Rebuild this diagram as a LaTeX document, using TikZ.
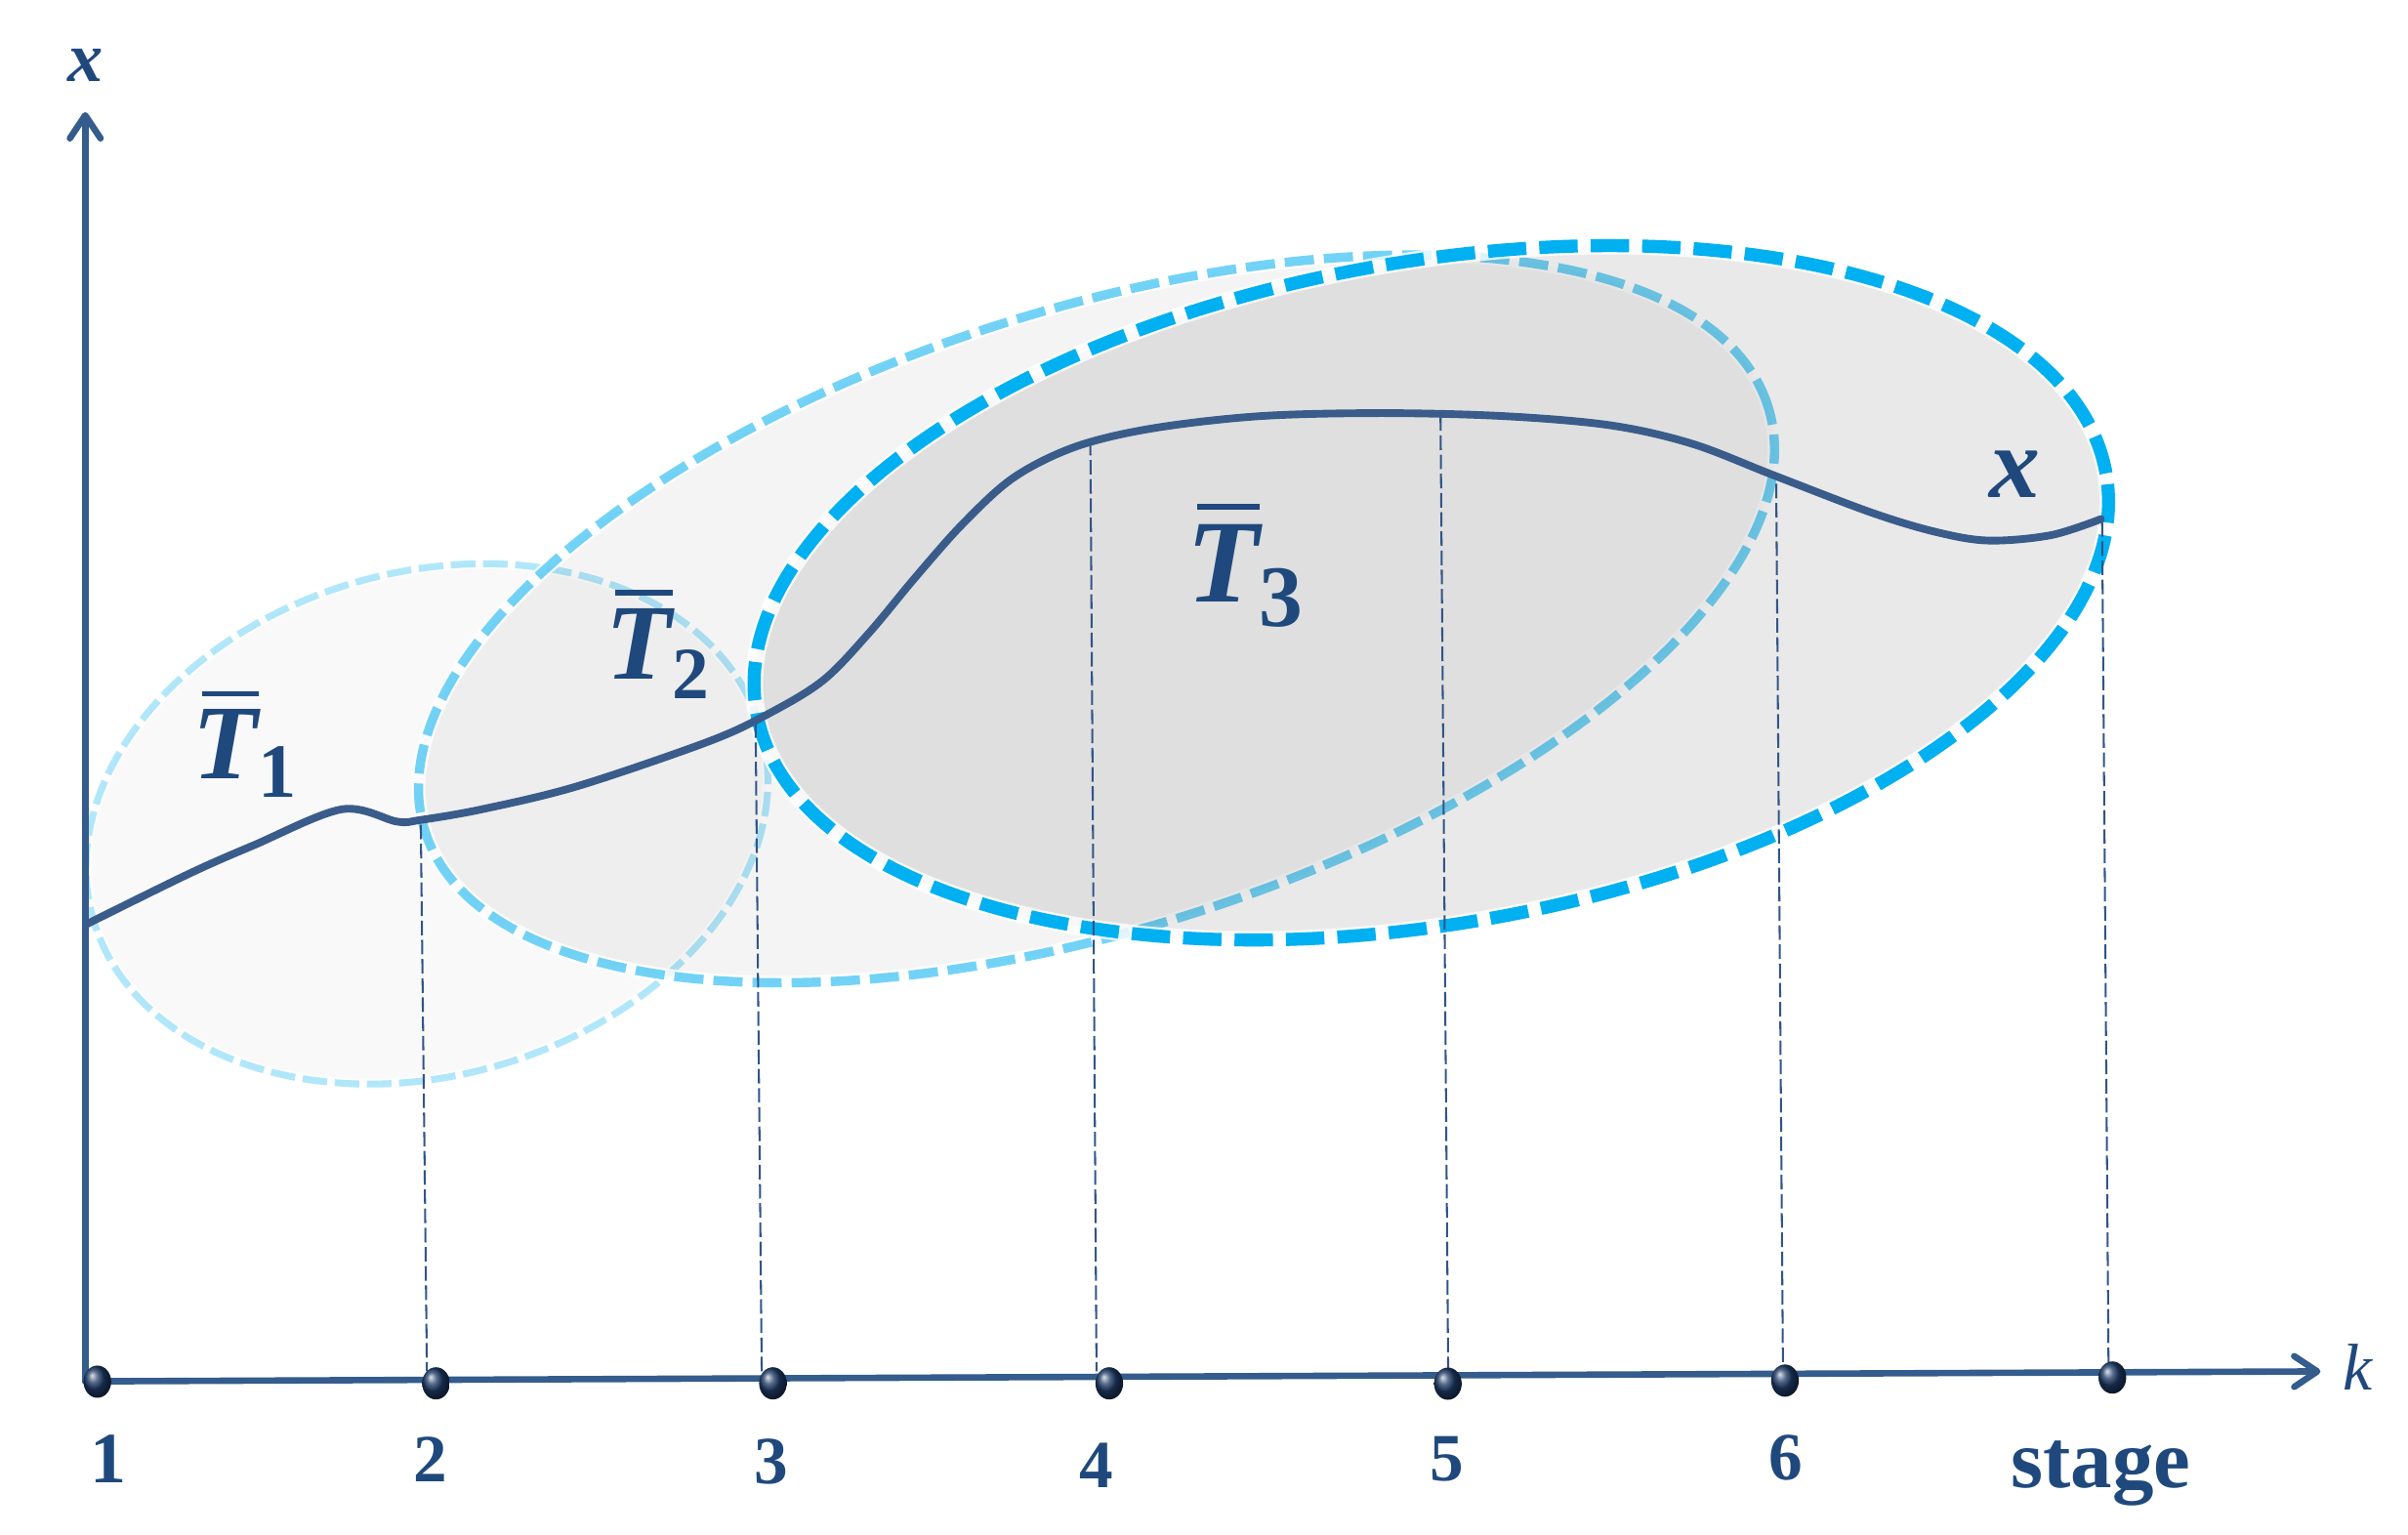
\documentclass[tikz,border=0pt]{standalone}
\usepackage{fontspec}
\setmainfont{Liberation Serif}
\usetikzlibrary{arrows.meta,shapes.geometric}
\definecolor{txt}{HTML}{1F497D}
\definecolor{axisc}{HTML}{345C8C}
\definecolor{curvec}{HTML}{3A5C8A}
\definecolor{cyanl}{HTML}{00B0F0}
\definecolor{dropc}{HTML}{325587}
\definecolor{dotc}{HTML}{1E3A66}
% T with bar and subscript: #1 T size, #2 sub size, #3 digit, #4 lowering
\newcommand\barT[4]{%
  {\fontsize{#1}{#1}\selectfont\bfseries\itshape
   \rlap{\kern0.09em\raisebox{0.775em}{\rule{0.53em}{0.05em}}}T}%
  \kern0.04em\raisebox{-#4pt}{\fontsize{#2}{#2}\selectfont\bfseries #3}}
\begin{document}
\begin{tikzpicture}[x=1pt,y=-1pt,
  axisline/.style={draw=axisc, line width=4.2pt, line cap=round, line join=round,
    -{Straight Barb[length=15pt,width=20pt,line cap=round,line join=round]}},
  curvestyle/.style={draw=curvec, line width=5pt, line cap=round},
  dropline/.style={draw=dropc, line width=1.3pt, dash pattern=on 9.5pt off 3pt},
  halo/.style={draw=white, line width=#1, opacity=0.8},
  eonefill/.style={fill=black, fill opacity=0.022},
  etwofill/.style={fill=black, fill opacity=0.045},
  ethreefill/.style={fill=black, fill opacity=0.085},
  eoneline/.style={draw=cyanl, draw opacity=0.3, line width=4.5pt, dash pattern=on 16pt off 5pt},
  etwoline/.style={draw=cyanl, draw opacity=0.55, line width=6pt, dash pattern=on 19pt off 6.5pt},
  ethreeline/.style={draw=cyanl, line width=8.5pt, dash pattern=on 25pt off 8.5pt},
  eone/.style={shift={(278,536.5)}, rotate=15.8},
  etwo/.style={shift={(714,403)}, rotate=17.55},
  ethree/.style={shift={(932,386)}, rotate=10.04},
  dotn/.style={ellipse, minimum width=18pt, minimum height=21pt, inner sep=0pt, ball color=dotc, draw=none},
  lab/.style={text=txt, inner sep=0pt},
  numlab/.style={lab, font=\fontsize{44}{44}\selectfont\bfseries}
]
\useasboundingbox (0,0) rectangle (1568,999);

% regions
\fill[eonefill, eone] (0,0) ellipse [x radius=226pt, y radius=164pt];
\draw[halo=7pt, eone] (0,0) ellipse [x radius=226pt, y radius=164pt];
\draw[eoneline, eone] (0,0) ellipse [x radius=226pt, y radius=164pt];

\fill[etwofill, etwo] (0,0) ellipse [x radius=458.6pt, y radius=201.8pt];
\draw[halo=9pt, etwo] (0,0) ellipse [x radius=458.6pt, y radius=201.8pt];
\draw[etwoline, etwo] (0,0) ellipse [x radius=458.6pt, y radius=201.8pt];

\fill[ethreefill, ethree] (0,0) ellipse [x radius=446.2pt, y radius=215.5pt];
\draw[halo=11.5pt, ethree] (0,0) ellipse [x radius=446.2pt, y radius=215.5pt];
\draw[ethreeline, ethree] (0,0) ellipse [x radius=446.2pt, y radius=215.5pt];

% points on curve and on axis
\coordinate (c2) at (274,537);
\coordinate (c3) at (492,471);
\coordinate (c4) at (710,287);
\coordinate (c5) at (938,271);
\coordinate (c6) at (1156.6,315);
\coordinate (c7) at (1368.8,340);
\coordinate (b2) at (278,893);
\coordinate (b3) at (496,893);
\coordinate (b4) at (714,893);
\coordinate (b5) at (943,893);
\coordinate (b6) at (1161,892);
\coordinate (b7) at (1373,890);

\draw[dropline] (c2) -- (b2);
\draw[dropline] (c3) -- (b3);
\draw[dropline] (c4) -- (b4);
\draw[dropline] (c5) -- (b5);
\draw[dropline] (c6) -- (b6);
\draw[dropline] (c7) -- (b7);

% trajectory
\draw[curvestyle] plot[smooth, tension=0.55] coordinates {
 (56,602) (123,569) (165,550.5) (222.5,527) (258.6,535) (273.4,534)
 (313.7,527) (375.8,512) (461,483) (500,465) (536,443) (566,412)
 (596,376) (627,341) (660,311) (700,291) (750,279) (820,271) (900,269)
 (980,271) (1049,277) (1102,289) (1155,309.5) (1218.7,333.8) (1261,346.5)
 (1295,352) (1335.4,348.5) (1368,338)};

% axes
\coordinate (O) at (55.5,899.5);
\coordinate (ytip) at (55.5,73);
\coordinate (xtip) at (1511,893);
\draw[axisline] (O) -- (ytip);
\draw[axisline] (O) -- (xtip);

% stage dots
\node[dotn] (d1) at (63.4,899.7) {};
\node[dotn] (d2) at (283.9,900.8) {};
\node[dotn] (d3) at (503.3,900.8) {};
\node[dotn] (d4) at (722.3,900.8) {};
\node[dotn] (d5) at (942.8,901) {};
\node[dotn] (d6) at (1162.3,899) {};
\node[dotn] (d7) at (1375.5,897) {};

% labels
\node[lab, font=\fontsize{46}{46}\selectfont\bfseries\itshape] (xax) at (55.6,42.3) {x};
\node[lab, font=\fontsize{43}{43}\selectfont\itshape] (kax) at (1535,890) {k};
\node[lab, font=\fontsize{66}{66}\selectfont\bfseries\itshape] (xcur) at (1312,309) {x};

\node[lab, anchor=base west] (T1) at (125.4,507) {\barT{69}{50}{1}{12}};
\node[lab, anchor=base west] (T2) at (394.3,442) {\barT{70}{48}{2}{13}};
\node[lab, anchor=base west] (T3) at (772.4,391.7) {\barT{77}{57}{3}{16}};

\node[numlab, font=\fontsize{47}{47}\selectfont\bfseries] (n1) at (70.5,950) {1};
\node[numlab] (n2) at (280,950) {2};
\node[numlab] (n3) at (502,952) {3};
\node[numlab] (n4) at (714,954) {4};
\node[numlab] (n5) at (942,950) {5};
\node[numlab] (n6) at (1163,949) {6};
\node[lab, anchor=base, font=\fontsize{54}{54}\selectfont\bfseries] (stg) at (1368,968.5) {stage};
\end{tikzpicture}
\end{document}
